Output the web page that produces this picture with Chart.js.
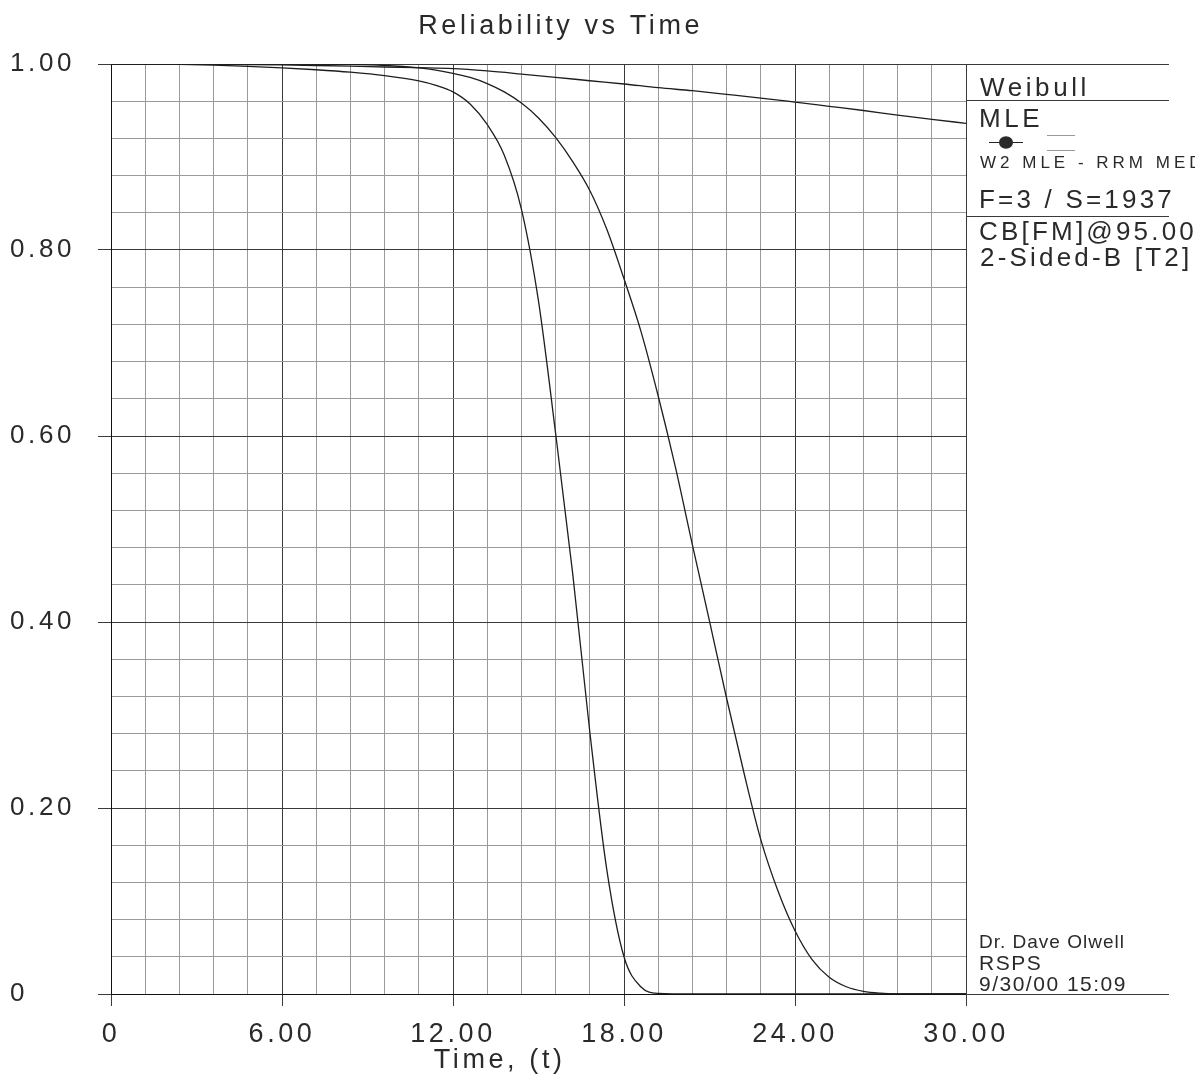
<!DOCTYPE html>
<html><head><meta charset="utf-8">
<script src="https://cdn.jsdelivr.net/npm/chart.js@4.4.1/dist/chart.umd.min.js"></script>
<style>html,body{margin:0;padding:0;background:#fff;}canvas{display:block;}</style>
</head><body>
<canvas id="c" width="1202" height="1082"></canvas>
<script>
// ---- data ----
const chartTitle = 'Reliability vs Time';
const xAxisTitle = 'Time, (t)';
const xMajorValues = [0, 6, 12, 18, 24, 30];
const xMajorLabels = ['0', '6.00', '12.00', '18.00', '24.00', '30.00'];
const yMajorValues = [0, 0.2, 0.4, 0.6, 0.8, 1.0];
const yMajorLabels = ['0', '0.20', '0.40', '0.60', '0.80', '1.00'];

// upper confidence bound (flat curve)
const upperTime = [0, 1.2, 2.4, 3.6, 4.8, 6, 7.2, 8.4, 9.6, 10.8, 12, 13.2, 14.4, 15.6, 16.8, 18, 19.2, 20.4, 21.6, 22.8, 24, 25.2, 26.4, 27.6, 28.8, 30];
const upperRel  = [1, 1, 0.9999, 0.9997, 0.9994, 0.999, 0.9984, 0.9977, 0.9968, 0.996, 0.995, 0.9925, 0.9892, 0.9857, 0.982, 0.9785, 0.9745, 0.9713, 0.9674, 0.9634, 0.959, 0.9545, 0.950, 0.945, 0.9405, 0.9362];

// fitted Weibull reliability (middle curve)
const fitTime = [0, 1.2, 2.4, 3.6, 4.8, 6, 7.2, 8.4, 9.6, 10.8, 11.4, 12, 12.6, 13.2, 13.8, 14.4, 15.0, 15.6, 16.2, 16.8, 17.4, 18.0, 18.6, 19.2, 19.8, 20.4, 21.0, 21.6, 22.2, 22.8, 23.4, 24.0, 24.6, 25.2, 25.8, 26.4, 27.0, 27.6, 28.8, 30];
const fitRel  = [1, 1, 1, 1, 1, 1, 0.9998, 0.9995, 0.9984, 0.9958, 0.9935, 0.990, 0.9855, 0.979, 0.970, 0.958, 0.942, 0.921, 0.895, 0.864, 0.822, 0.769, 0.712, 0.643, 0.567, 0.483, 0.401, 0.318, 0.239, 0.166, 0.111, 0.068, 0.037, 0.018, 0.0078, 0.0029, 0.0009, 0.0002, 0, 0];

// lower confidence bound (steep curve)
const lowerTime = [0, 1.2, 2.4, 3.6, 4.8, 6, 7.2, 8.4, 9.6, 10.8, 11.4, 12, 12.6, 13.2, 13.8, 14.4, 15.0, 15.6, 16.2, 16.8, 17.4, 18.0, 18.6, 19.2, 20.4, 24, 30];
const lowerRel  = [1, 0.9999, 0.9995, 0.9987, 0.9975, 0.9958, 0.9938, 0.9912, 0.9875, 0.9818, 0.977, 0.970, 0.957, 0.935, 0.902, 0.844, 0.745, 0.603, 0.452, 0.282, 0.133, 0.040, 0.0075, 0.0007, 0, 0, 0];

const panelTop = ['Weibull', 'MLE'];
const panelSmall = 'W2 MLE - RRM MED';
const panelStats = ['F=3 / S=1937', 'CB[FM]@95.00%', '2-Sided-B [T2]'];
const panelFooter = ['Dr. Dave Olwell', 'RSPS', '9/30/00 15:09'];

// ---- helpers ----
const FONT = 'Liberation Sans, Arial, Helvetica, sans-serif';
const TEXT = '#2a2a2a';
const MAJOR = '#3a3a3a';
const MINOR = '#9a9a9a';
function pts(ts, rs) { return ts.map((t, i) => ({x: t, y: rs[i]})); }
function majorIndex(list, v) { for (let i = 0; i < list.length; i++) if (Math.abs(list[i] - v) < 1e-6) return i; return -1; }

const spacingPlugin = {
  id: 'spacing',
  beforeUpdate(chart) { chart.ctx.letterSpacing = '3.6px'; },
  beforeDraw(chart) { chart.ctx.letterSpacing = '3.6px'; }
};

const panelPlugin = {
  id: 'panel',
  afterDraw(chart) {
    const ctx = chart.ctx, a = chart.chartArea;
    const R = 1169;
    ctx.save();
    ctx.lineWidth = 1;
    ctx.strokeStyle = MAJOR;
    const hl = (y, x0, x1) => { ctx.beginPath(); ctx.moveTo(x0, Math.round(y) + 0.5); ctx.lineTo(x1, Math.round(y) + 0.5); ctx.stroke(); };
    hl(a.top, a.right, R);
    hl(a.bottom, a.right, R);
    hl(100, a.right, R);
    hl(216, a.right, R);
    // marker sample
    ctx.strokeStyle = '#222';
    hl(142, 989, 1023);
    ctx.fillStyle = '#2a2a2a';
    ctx.beginPath(); ctx.ellipse(1006, 142.5, 7, 6.2, 0, 0, Math.PI * 2); ctx.fill();
    ctx.strokeStyle = '#999';
    hl(135, 1047, 1075);
    hl(149.5, 1047, 1075);
    // text, clipped at the right edge
    ctx.beginPath(); ctx.rect(a.right, 0, 1195 - a.right, chart.height); ctx.clip();
    ctx.fillStyle = TEXT;
    ctx.textAlign = 'left';
    ctx.textBaseline = 'alphabetic';
    ctx.font = '26px ' + FONT;
    ctx.letterSpacing = '3.6px';
    ctx.fillText(panelTop[0], 980, 96);
    ctx.fillText(panelTop[1], 979, 127);
    ctx.font = '17px ' + FONT;
    ctx.letterSpacing = '4px';
    ctx.fillText(panelSmall, 980, 168);
    ctx.font = '26px ' + FONT;
    ctx.letterSpacing = '3.2px';
    ctx.fillText(panelStats[0], 979, 208);
    ctx.fillText(panelStats[1], 979, 240);
    ctx.fillText(panelStats[2], 980, 266);
    ctx.font = '19px ' + FONT;
    ctx.letterSpacing = '1px';
    ctx.fillText(panelFooter[0], 979, 948);
    ctx.font = '21px ' + FONT;
    ctx.letterSpacing = '1.5px';
    ctx.fillText(panelFooter[1], 979, 969.5);
    ctx.fillText(panelFooter[2], 979, 990.5);
    ctx.restore();
  }
};

const lineStyle = { borderColor: '#1e1e1e', borderWidth: 1.3, pointRadius: 0, fill: false, cubicInterpolationMode: 'monotone' };

new Chart(document.getElementById('c'), {
  type: 'line',
  data: {
    datasets: [
      Object.assign({ label: 'Upper bound', data: pts(upperTime, upperRel) }, lineStyle),
      Object.assign({ label: 'Reliability', data: pts(fitTime, fitRel) }, lineStyle),
      Object.assign({ label: 'Lower bound', data: pts(lowerTime, lowerRel) }, lineStyle)
    ]
  },
  options: {
    responsive: false,
    animation: false,
    devicePixelRatio: 1,
    layout: { padding: { left: 10, right: 236, top: 0, bottom: 0 } },
    plugins: {
      legend: { display: false },
      tooltip: { enabled: false },
      title: {
        display: true,
        text: '    ' + chartTitle,
        fullSize: false,
        color: TEXT,
        font: { family: FONT, size: 27, weight: 'normal' },
        padding: { top: 10.4, bottom: 21.2 }
      }
    },
    scales: {
      x: {
        type: 'linear',
        min: 0, max: 30,
        afterFit(s) { s.height = 88; },
        ticks: {
          stepSize: 1.2,
          autoSkip: false, maxRotation: 0, minRotation: 0,
          padding: 12,
          color: TEXT,
          font: { family: FONT, size: 27 },
          callback(v) { const i = majorIndex(xMajorValues, v); return i >= 0 ? xMajorLabels[i] : ''; }
        },
        grid: {
          color: c => majorIndex(xMajorValues, c.tick.value) >= 0 ? MAJOR : MINOR,
          tickColor: c => majorIndex(xMajorValues, c.tick.value) >= 0 ? MAJOR : 'rgba(0,0,0,0)',
          tickLength: 12,
          lineWidth: 1
        },
        border: { display: true, color: '#111', width: 1 },
        title: {
          display: true,
          text: xAxisTitle + '       ',
          color: TEXT,
          font: { family: FONT, size: 27 },
          padding: { top: 0, bottom: 5 }
        }
      },
      y: {
        type: 'linear',
        min: 0, max: 1,
        afterFit(s) { s.width = 101; },
        ticks: {
          stepSize: 0.04,
          autoSkip: false,
          crossAlign: 'far',
          color: TEXT,
          font: { family: FONT, size: 26 },
          callback(v) { const i = majorIndex(yMajorValues, v); return i >= 0 ? yMajorLabels[i] : ''; }
        },
        grid: {
          color: c => majorIndex(yMajorValues, c.tick.value) >= 0 ? MAJOR : MINOR,
          tickColor: c => majorIndex(yMajorValues, c.tick.value) >= 0 ? MAJOR : 'rgba(0,0,0,0)',
          tickLength: 13,
          lineWidth: 1
        },
        border: { display: true, color: '#111', width: 1 }
      }
    }
  },
  plugins: [spacingPlugin, panelPlugin]
});
</script>
</body></html>
